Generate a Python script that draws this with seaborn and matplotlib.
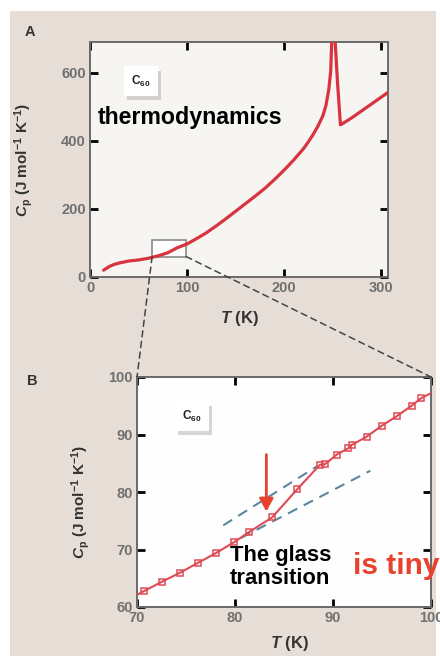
import matplotlib
matplotlib.use('Agg')
import matplotlib.pyplot as plt
import matplotlib.patheffects as pe
from matplotlib.patches import Rectangle, ConnectionPatch
import seaborn as sns

# Panel A: heat capacity of C60 over the full temperature range
temp_full = [14, 20, 25, 30, 40, 50, 60, 70, 80, 90, 100, 110, 120, 130, 140,
             150, 160, 170, 180, 190, 200, 210, 220, 225, 230, 235, 240, 243,
             246, 248, 249, 250.8, 252.6, 255, 258, 260, 270, 280, 290, 300, 310]
cp_full = [20, 31, 37, 41, 47, 50, 55, 62, 71, 86, 97, 113, 130, 150, 171,
           193, 215, 237, 260, 286, 314, 344, 377, 397, 419, 444, 474, 503,
           550, 605, 690, 850, 690, 570, 447, 450, 468, 488, 508, 528, 548]

# Panel B: measured points around the glass transition
temp_zoom = [69.0, 70.75, 72.56, 74.43, 76.24, 78.08, 79.88, 81.41, 83.8, 86.36,
             88.68, 89.16, 90.38, 91.54, 91.92, 93.42, 94.96, 96.52, 98.02,
             98.98, 100.6]
cp_zoom = [61.2, 62.8, 64.4, 66.0, 67.7, 69.4, 71.25, 73.0, 75.6, 80.5,
           84.75, 84.8, 86.5, 87.6, 88.2, 89.6, 91.5, 93.2, 95.0, 96.3, 97.7]

# extrapolated baselines above / below the transition
upper_t = [78.8, 88.4]
upper_cp = [74.2, 84.5]
lower_t = [80.6, 93.8]
lower_cp = [72.0, 83.7]

arrow_t = 83.2
arrow_cp = (86.5, 76.6)

zoom_t = (64, 99)
zoom_cp = (60, 108)

red = '#d8333f'
red_b = '#df4b55'
orange_red = '#e8412c'
dash_blue = '#5a87a0'

sns.set_style('ticks')
plt.rcParams['font.family'] = ['Liberation Sans', 'DejaVu Sans']
plt.rcParams['mathtext.fontset'] = 'custom'
plt.rcParams['mathtext.rm'] = 'Liberation Sans:bold'
plt.rcParams['mathtext.bf'] = 'Liberation Sans:bold'
plt.rcParams['mathtext.it'] = 'Liberation Sans:italic:bold'

W, H = 440, 656
fig = plt.figure(figsize=(4.4, 6.56), dpi=100, facecolor='white')
fig.add_artist(Rectangle((10 / W, 0), 426 / W, 645 / H, transform=fig.transFigure,
                         facecolor='#e5ddd6', edgecolor='none', zorder=-10))

axA = fig.add_axes([90 / W, 1 - 277 / H, 298 / W, 235 / H])
axB = fig.add_axes([137 / W, 1 - 607 / H, 294 / W, 230 / H])

# ---- panel A
axA.set_facecolor('#f7f5f2')
sns.lineplot(x=temp_full, y=cp_full, ax=axA, color=red, lw=2.3, sort=False,
             estimator=None, zorder=3)
axA.add_patch(Rectangle((zoom_t[0], zoom_cp[0]), zoom_t[1] - zoom_t[0],
                        zoom_cp[1] - zoom_cp[0], facecolor='white',
                        edgecolor='#8a8a8a', lw=1.2, zorder=2))
axA.set_xlim(0, 307)
axA.set_ylim(0, 690)
axA.set_xticks([0, 100, 200, 300])
axA.set_yticks([0, 200, 400, 600])

# ---- panel B
axB.set_facecolor('#fefefe')
sns.lineplot(x=upper_t, y=upper_cp, ax=axB, color=dash_blue, lw=1.5,
             zorder=2).lines[-1].set_dashes((5, 3.5))
sns.lineplot(x=lower_t, y=lower_cp, ax=axB, color=dash_blue, lw=1.5,
             zorder=2).lines[-1].set_dashes((5, 3.5))
sns.lineplot(x=temp_zoom, y=cp_zoom, ax=axB, color=red_b, lw=1.5, sort=False,
             estimator=None, marker='s', markersize=4.5, markerfacecolor='none',
             markeredgecolor=red_b, markeredgewidth=1.1, zorder=3)
axB.annotate('', xy=(arrow_t, arrow_cp[1]), xytext=(arrow_t, arrow_cp[0]),
             arrowprops=dict(arrowstyle='-|>,head_length=0.55,head_width=0.3',
                             color=orange_red, lw=2, mutation_scale=14,
                             shrinkA=0, shrinkB=0), zorder=4)
axB.set_xlim(70, 100)
axB.set_ylim(60, 100)
axB.set_xticks([70, 80, 90, 100])
axB.set_yticks([60, 70, 80, 90, 100])

for ax in (axA, axB):
    ax.tick_params(direction='in', length=6, width=2, color='black',
                   top=True, right=True, labelsize=10.5, labelcolor='#707070',
                   pad=3)
    for lab in ax.get_xticklabels() + ax.get_yticklabels():
        lab.set_fontweight('bold')
    for sp in ax.spines.values():
        sp.set_visible(True)
        sp.set_color('#6a6a6a')
        sp.set_linewidth(1.4)
    ax.set_xlabel(r'$T$ (K)', fontsize=12, fontweight='bold', color='#333333')
    ax.set_ylabel(r'$C_\mathrm{p}$ (J mol$^{-1}$ K$^{-1}$)', fontsize=11,
                  fontweight='bold', color='#333333')
    t = ax.text(0, 0, r'C$_{60}$', fontsize=8.5, fontweight='bold',
                color='#222222', ha='center', va='center',
                transform=ax.transAxes,
                bbox=dict(boxstyle='square,pad=0.6', facecolor='white',
                          edgecolor='none'))
    t.get_bbox_patch().set_path_effects([
        pe.SimplePatchShadow(offset=(2, -3), shadow_rgbFace='#a8a29c', alpha=0.45),
        pe.Normal()])
    ax.c60 = t

axA.c60.set_position((0.171, 0.834))
axB.c60.set_position((0.187, 0.83))

axA.xaxis.set_label_coords(0.503, -0.136)
axA.yaxis.set_label_coords(-0.185, 0.5)
axB.xaxis.set_label_coords(0.52, -0.117)
axB.yaxis.set_label_coords(-0.153, 0.457)

# zoom connectors
for xa, xb in ((zoom_t[0], 0), (zoom_t[1], 1)):
    con = ConnectionPatch(xyA=(xa, zoom_cp[0]), coordsA=axA.transData,
                          xyB=(xb, 1), coordsB=axB.transAxes,
                          color='#444444', lw=1.1, linestyle=(0, (4, 3)))
    fig.add_artist(con)

axA.text(0.027, 0.651, 'thermodynamics', transform=axA.transAxes,
         fontsize=16.7, fontweight='bold', color='black', va='baseline')
axB.text(0.316, 0.27, 'The glass\ntransition', transform=axB.transAxes,
         fontsize=15.8, fontweight='bold', color='black', va='top',
         linespacing=1.15, zorder=5)
fig.text(353 / W, 1 - 574 / H, 'is tiny', fontsize=21.5, fontweight='bold',
         color=orange_red, va='baseline')

fig.text(25 / W, 1 - 36 / H, 'A', fontsize=10.5, fontweight='bold',
         color='#333333', va='baseline')
fig.text(27 / W, 1 - 385 / H, 'B', fontsize=10.5, fontweight='bold',
         color='#333333', va='baseline')

fig.savefig('out.png', dpi=100, facecolor=fig.get_facecolor())
